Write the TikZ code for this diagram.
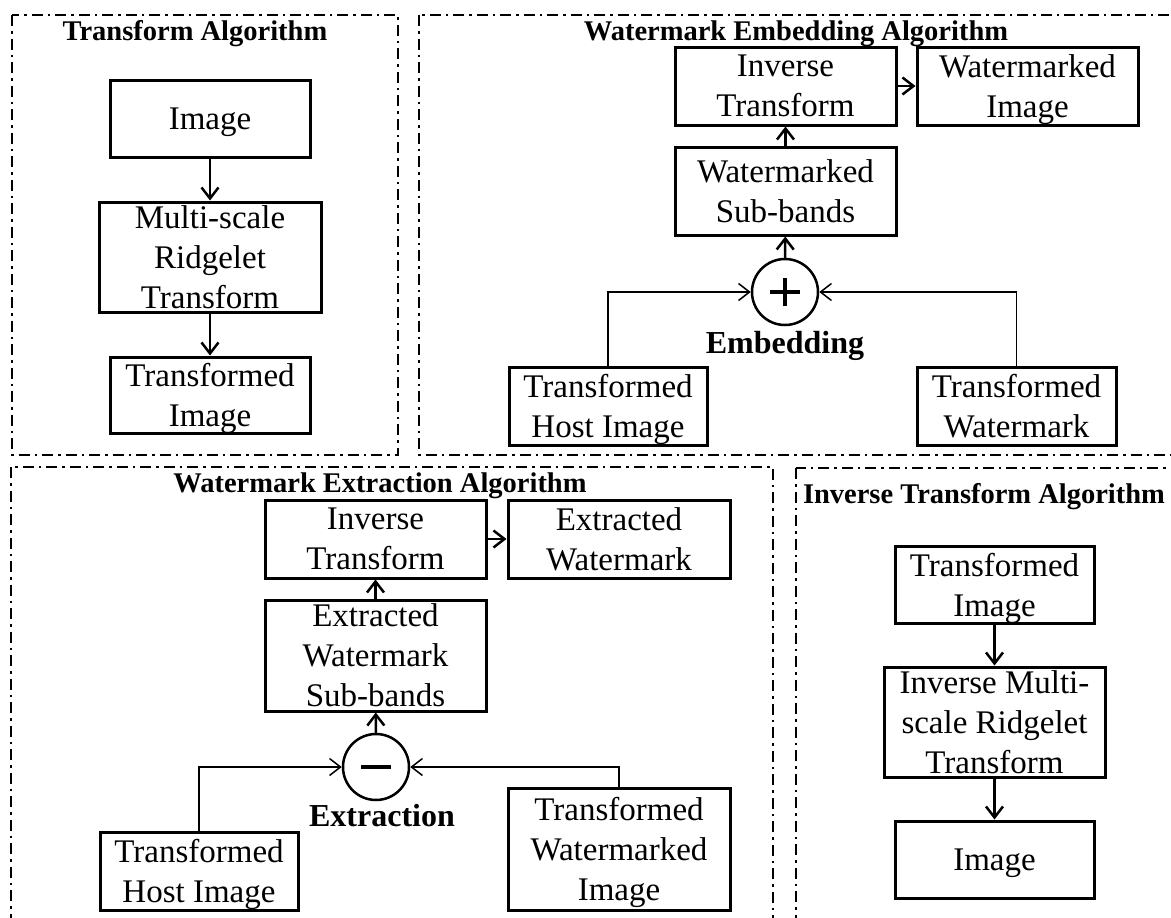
\documentclass[tikz,border=0pt]{standalone}
\usepackage{fontspec}
\setmainfont{Liberation Serif}
\usetikzlibrary{arrows.meta}
\begin{document}
\begin{tikzpicture}[x=1pt,y=-1pt,
  panel/.style={line width=2.6pt, dash pattern=on 11pt off 5pt on 2.5pt off 5pt},
  box/.style={draw, line width=3pt, inner sep=0pt, align=center, text depth=0pt,
    font=\fontsize{33}{40}\selectfont},
  sz/.style n args={2}{minimum width=#1pt, minimum height=#2pt},
  title/.style={font=\bfseries\fontsize{28.5}{34}\selectfont, inner sep=0pt},
  oplabel/.style={font=\bfseries\fontsize{32}{38}\selectfont, inner sep=0pt},
  opcircle/.style={draw, circle, line width=2.5pt, minimum size=66pt, inner sep=0pt},
  conn/.style={line width=2.5pt, -{Straight Barb[length=11pt,width=17pt]}},
  thinconn/.style={line width=1.5pt, -{Straight Barb[length=11pt,width=17pt]}},
  sign/.style={line width=3.5pt}
]
\useasboundingbox (0,0) rectangle (1171,918);
\fill[white] (0,0) rectangle (1171,918);
\begin{scope}
\clip (0,0) rectangle (1171,918);
\draw[panel] (12,15) rectangle (398,455);
\draw[panel] (419,15) rectangle (1200,455);
\draw[panel] (11,467) rectangle (773,950);
\draw[panel] (796,468) rectangle (1200,950);
\end{scope}

% titles
\node[title] (t1) at (195,33.5) {Transform Algorithm};
\node[title] (t2) at (796,33.5) {Watermark Embedding Algorithm};
\node[title] (t3) at (380,486) {Watermark Extraction Algorithm};
\node[title] (t4) at (984,496.5) {Inverse Transform Algorithm};

% panel 1
\node[box, sz={200}{77}] (img1) at (210,118.5) {Image};
\node[box, sz={222}{110}] (msrt) at (210,257) {Multi-scale\\Ridgelet\\Transform};
\node[box, sz={200}{76}] (timg1) at (210,395) {Transformed\\Image};
\draw[conn] (img1) -- (msrt);
\draw[conn] (msrt) -- (timg1);

% panel 2
\node[box, sz={221}{78}] (inv1) at (785.5,86) {Inverse\\Transform};
\node[box, sz={221}{78}] (wimg) at (1027.5,86) {Watermarked\\Image};
\node[box, sz={221}{88}] (wsb) at (785.5,191) {Watermarked\\Sub-bands};
\node[opcircle] (plus) at (785,292) {};
\node[oplabel] (emb) at (785,345.5) {Embedding};
\node[box, sz={198}{78}] (thost1) at (608,406) {Transformed\\Host Image};
\node[box, sz={199}{78}] (twm) at (1016.5,406) {Transformed\\Watermark};
\draw[sign] ([xshift=-15pt]plus.center) -- ([xshift=15pt]plus.center);
\draw[sign] ([yshift=-14pt]plus.center) -- ([yshift=14pt]plus.center);
\draw[conn] (plus) -- (wsb);
\draw[conn] (wsb) -- (inv1);
\draw[conn] (inv1) -- (wimg);
\draw[thinconn] (thost1.north) |- (plus.west);
\draw[thinconn] (twm.north) |- (plus.east);

% panel 3
\node[box, sz={221}{78}] (inv2) at (375.5,539) {Inverse\\Transform};
\node[box, sz={222}{78}] (exw) at (619,539) {Extracted\\Watermark};
\node[box, sz={221}{111}] (exsb) at (375.5,655.5) {Extracted\\Watermark\\Sub-bands};
\node[opcircle] (minus) at (376,767) {};
\node[oplabel] (ext) at (382,816) {Extraction};
\node[box, sz={198}{78}] (thost2) at (199,871) {Transformed\\Host Image};
\node[box, sz={222}{122}] (twmi) at (619,849) {Transformed\\Watermarked\\Image};
\draw[line width=4.5pt] ([xshift=-15pt]minus.center) -- ([xshift=15pt]minus.center);
\draw[conn] (minus) -- (exsb);
\draw[conn] (exsb) -- (inv2);
\draw[conn] (inv2) -- (exw);
\draw[thinconn] (thost2.north) |- (minus.west);
\draw[thinconn] (twmi.north) |- (minus.east);

% panel 4
\node[box, sz={199}{77}] (timg2) at (994.5,584.5) {Transformed\\Image};
\node[box, sz={221}{110}] (imsrt) at (994.5,722) {Inverse Multi-\\scale Ridgelet\\Transform};
\node[box, sz={199}{77}] (img2) at (994.5,859.5) {Image};
\draw[conn] (timg2) -- (imsrt);
\draw[conn] (imsrt) -- (img2);
\end{tikzpicture}
\end{document}
